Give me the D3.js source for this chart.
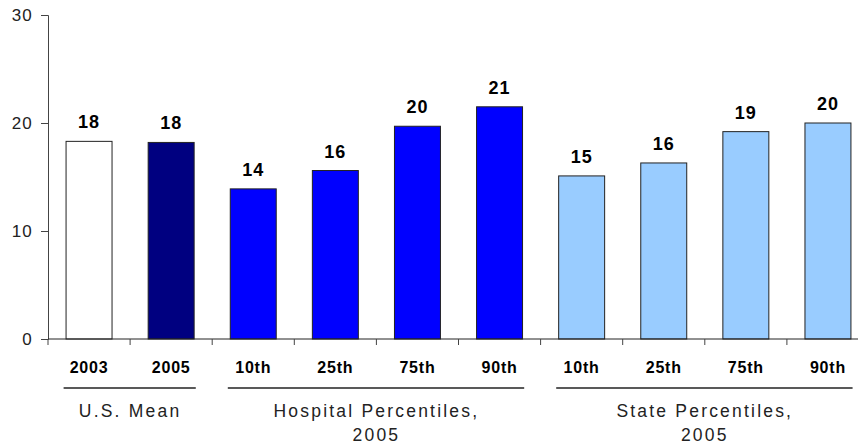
<!DOCTYPE html>
<html>
<head>
<meta charset="utf-8">
<script src="https://cdn.jsdelivr.net/npm/d3@7"></script>
<style>
  body { margin: 0; background: #fff; }
  svg { display: block; font-family: "Liberation Sans", Arial, sans-serif; }
</style>
</head>
<body>
<div id="chart-area"></div>
<script>
const categories = ["2003", "2005", "10th", "25th", "75th", "90th", "10th", "25th", "75th", "90th"]
const values = [18.3, 18.2, 13.9, 15.6, 19.7, 21.5, 15.1, 16.3, 19.2, 20.0]
const valueLabels = ["18", "18", "14", "16", "20", "21", "15", "16", "19", "20"]
const barKinds = ["us2003", "us2005", "hosp", "hosp", "hosp", "hosp", "state", "state", "state", "state"]
const groups = [
  { lines: ["U.S. Mean"], first: 0, last: 1 },
  { lines: ["Hospital Percentiles,", "2005"], first: 2, last: 5 },
  { lines: ["State Percentiles,", "2005"], first: 6, last: 9 }
]
const yTicks = [0, 10, 20, 30]

const colors = { us2003: "#ffffff", us2005: "#000080", hosp: "#0000ff", state: "#99ccff" }

const W = 858, H = 446
const LEFT = 48, TOP = 15, BOTTOM_Y = 339
const BAND = 82.1

const svg = d3.select("#chart-area").append("svg")
  .attr("width", W)
  .attr("height", H)

const idx = d3.range(categories.length)
const x = d3.scaleBand()
  .domain(idx)
  .range([LEFT, LEFT + BAND * categories.length])
  .paddingInner(0.44)
  .paddingOuter(0.22)
const xTicks = d3.scaleBand().domain(idx).range([LEFT, LEFT + BAND * categories.length])
const y = d3.scaleLinear().domain([0, 30]).range([BOTTOM_Y, TOP])

// y axis
const yAxis = svg.append("g")
  .attr("transform", `translate(${LEFT},0)`)
  .call(d3.axisLeft(y).tickValues(yTicks).tickSize(7).tickPadding(8))
yAxis.select(".domain").attr("stroke", "#444")
yAxis.selectAll(".tick line").attr("stroke", "#444")
yAxis.selectAll(".tick text")
  .attr("font-size", "17px")
  .attr("letter-spacing", "1.2px")
  .attr("fill", "#222")
  .attr("font-family", "'Liberation Sans', Arial, sans-serif")

// bars
svg.append("g").selectAll("rect")
  .data(idx)
  .join("rect")
  .attr("x", i => x(i))
  .attr("y", i => y(values[i]))
  .attr("width", x.bandwidth())
  .attr("height", i => y(0) - y(values[i]))
  .attr("fill", i => colors[barKinds[i]])
  .attr("stroke", "#222")
  .attr("stroke-width", 1)

// value labels
svg.append("g").selectAll("text")
  .data(idx)
  .join("text")
  .attr("x", i => x(i) + x.bandwidth() / 2)
  .attr("y", i => y(values[i]) - 13)
  .attr("text-anchor", "middle")
  .attr("font-size", "18px")
  .attr("letter-spacing", "1px")
  .attr("font-weight", "bold")
  .attr("fill", "#000")
  .text(i => valueLabels[i])

// x axis (tick marks at band edges)
const xg = svg.append("g")
xg.append("line")
  .attr("x1", LEFT).attr("x2", W)
  .attr("y1", BOTTOM_Y).attr("y2", BOTTOM_Y)
  .attr("stroke", "#222")
xg.selectAll(".xt")
  .data(d3.range(categories.length + 1))
  .join("line")
  .attr("class", "xt")
  .attr("x1", i => LEFT + i * xTicks.bandwidth())
  .attr("x2", i => LEFT + i * xTicks.bandwidth())
  .attr("y1", BOTTOM_Y).attr("y2", BOTTOM_Y + 6)
  .attr("stroke", "#444")

// category labels
svg.append("g").selectAll("text")
  .data(idx)
  .join("text")
  .attr("x", i => xTicks(i) + xTicks.bandwidth() / 2)
  .attr("y", 373)
  .attr("text-anchor", "middle")
  .attr("font-size", "16px")
  .attr("letter-spacing", "0.8px")
  .attr("font-weight", "bold")
  .attr("fill", "#000")
  .text(i => categories[i])

// group underlines and labels
const gg = svg.append("g")
groups.forEach(g => {
  const bw = xTicks.bandwidth()
  const x1 = xTicks(g.first) + bw * 0.19
  const x2 = xTicks(g.last) + bw * 0.8
  gg.append("line")
    .attr("x1", x1).attr("x2", x2)
    .attr("y1", 388).attr("y2", 388)
    .attr("stroke", "#222")
    .attr("stroke-width", 1.5)
  const cx = (xTicks(g.first) + xTicks(g.last) + bw) / 2
  g.lines.forEach((t, k) => {
    gg.append("text")
      .attr("x", cx)
      .attr("y", 417 + k * 24)
      .attr("text-anchor", "middle")
      .attr("font-size", "17.5px")
      .attr("letter-spacing", "2.2px")
      .attr("fill", "#222")
      .text(t)
  })
})
</script>
</body>
</html>
